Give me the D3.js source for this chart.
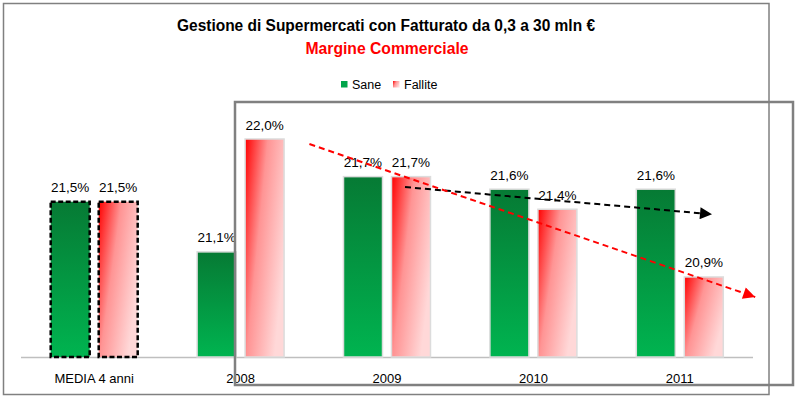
<!DOCTYPE html>
<html>
<head>
<meta charset="utf-8">
<script src="https://cdn.jsdelivr.net/npm/d3@7"></script>
<style>
  html, body { margin: 0; padding: 0; background: #fff; }
  svg { display: block; font-family: "Liberation Sans", Arial, sans-serif; }
</style>
</head>
<body>
<svg id="chart" width="800" height="399"></svg>
<script>
// ---- data ----
const categories = ["MEDIA 4 anni", "2008", "2009", "2010", "2011"];
const seriesNames = ["Sane", "Fallite"];
const saneValues = [21.5, 21.1, 21.7, 21.6, 21.6];
const falliteValues = [21.5, 22.0, 21.7, 21.44, 20.9];
const averageCategory = "MEDIA 4 anni";
const titleText = "Gestione di Supermercati con Fatturato da 0,3 a 30 mln €";
const subtitleText = "Margine Commerciale";
// trend arrows (category, fraction of band from centre, value)
const trendFallite = [{cat: "2008", off: 0.47, v: 21.96}, {cat: "2011", off: 0.515, v: 20.74}];
const trendSane = [{cat: "2009", off: 0.123, v: 21.617}, {cat: "2011", off: 0.22, v: 21.40}];

const svg = d3.select("#chart");
const W = 800, H = 399;

// ---- scales ----
const x0 = d3.scaleBand().domain(categories).range([21, 753]).padding(0);
const half = 43.5;
const x1 = d3.scaleBand().domain(seriesNames)
  .range([x0.bandwidth() / 2 - half, x0.bandwidth() / 2 + half])
  .paddingInner(0.1875).paddingOuter(0);
const y = d3.scaleLinear().domain([20.262, 22.0]).range([357, 139]);

const fmt = v => d3.format(".1f")(v).replace(".", ",") + "%";

// ---- defs ----
const defs = svg.append("defs");
const gG = defs.append("linearGradient").attr("id", "gGreen")
  .attr("x1", 0).attr("y1", 0).attr("x2", 0).attr("y2", 1);
gG.append("stop").attr("offset", "0%").attr("stop-color", "#067a34");
gG.append("stop").attr("offset", "100%").attr("stop-color", "#00b450");

const gR = defs.append("linearGradient").attr("id", "gRed")
  .attr("x1", 0).attr("y1", 0).attr("x2", 1).attr("y2", 0.55);
gR.append("stop").attr("offset", "0%").attr("stop-color", "#ff0000");
gR.append("stop").attr("offset", "45%").attr("stop-color", "#ff9494");
gR.append("stop").attr("offset", "100%").attr("stop-color", "#ffd8d8");

function marker(id, color) {
  defs.append("marker").attr("id", id)
    .attr("viewBox", "0 0 10 10").attr("refX", 10).attr("refY", 5)
    .attr("markerUnits", "userSpaceOnUse")
    .attr("markerWidth", 15).attr("markerHeight", 12)
    .attr("orient", "auto")
    .append("path").attr("d", "M0,0 L10,5 L0,10 Z").attr("fill", color);
}
marker("arrRed", "#ff0000");
marker("arrBlack", "#000000");

svg.append("rect").attr("width", W).attr("height", H).attr("fill", "#fff");

// ---- outer frame ----
svg.append("rect").attr("x", 3.5).attr("y", 3.5).attr("width", 765.5).attr("height", 391)
  .attr("fill", "none").attr("stroke", "#808080").attr("stroke-width", 1.5);

// ---- titles ----
svg.append("text").attr("x", 386).attr("y", 31).attr("text-anchor", "middle")
  .attr("font-size", 16).attr("font-weight", "bold").attr("fill", "#000")
  .attr("textLength", 418).attr("lengthAdjust", "spacingAndGlyphs")
  .text(titleText);
svg.append("text").attr("x", 387).attr("y", 54).attr("text-anchor", "middle")
  .attr("font-size", 16).attr("font-weight", "bold").attr("fill", "#ff0000")
  .attr("textLength", 163).attr("lengthAdjust", "spacingAndGlyphs")
  .text(subtitleText);

// ---- legend ----
const legend = svg.append("g");
const legItems = [{name: seriesNames[0], fill: "#00a54a", x: 341}, {name: seriesNames[1], fill: "url(#gRed)", x: 393}];
legItems.forEach(d => {
  legend.append("rect").attr("x", d.x).attr("y", 81).attr("width", 6.5).attr("height", 6.5).attr("fill", d.fill);
  legend.append("text").attr("x", d.x + 11).attr("y", 88.5).attr("font-size", 12.5).attr("fill", "#000").text(d.name);
});

// ---- axis baseline ----
svg.append("line").attr("x1", 21).attr("x2", 753).attr("y1", 357.5).attr("y2", 357.5)
  .attr("stroke", "#bfbfbf").attr("stroke-width", 1.5);

// ---- bars ----
const rows = categories.map((c, i) => ({cat: c, vals: [saneValues[i], falliteValues[i]]}));
const groups = svg.append("g").selectAll("g").data(rows).join("g")
  .attr("transform", d => `translate(${x0(d.cat)},0)`);

groups.selectAll("rect").data(d => d.vals.map((v, j) => ({cat: d.cat, s: seriesNames[j], v})))
  .join("rect")
  .attr("x", d => x1(d.s))
  .attr("width", x1.bandwidth())
  .attr("y", d => y(d.v))
  .attr("height", d => y.range()[0] - y(d.v))
  .attr("fill", d => d.s === "Sane" ? "url(#gGreen)" : "url(#gRed)")
  .attr("stroke", d => d.cat === averageCategory ? "#000" : "#dcdcdc")
  .attr("stroke-width", d => d.cat === averageCategory ? 2.5 : 1.5)
  .attr("stroke-dasharray", d => d.cat === averageCategory ? "5,2.5" : null);

groups.selectAll("text.val").data(d => d.vals.map((v, j) => ({s: seriesNames[j], v})))
  .join("text").attr("class", "val")
  .attr("x", d => x1(d.s) + x1.bandwidth() / 2)
  .attr("y", d => y(d.v) - 9.5)
  .attr("text-anchor", "middle").attr("font-size", 13.5).attr("fill", "#000")
  .text(d => fmt(d.v));

// ---- category labels ----
svg.append("g").selectAll("text").data(categories).join("text")
  .attr("x", d => x0(d) + x0.bandwidth() / 2)
  .attr("y", 383)
  .attr("text-anchor", "middle").attr("font-size", 13).attr("fill", "#000")
  .text(d => d);

// ---- trend arrows ----
const tx = p => x0(p.cat) + x0.bandwidth() * (0.5 + p.off);
function arrow(pts, color, mk) {
  svg.append("line")
    .attr("x1", tx(pts[0])).attr("y1", y(pts[0].v))
    .attr("x2", tx(pts[1])).attr("y2", y(pts[1].v))
    .attr("stroke", color).attr("stroke-width", 2)
    .attr("stroke-dasharray", "6,4")
    .attr("marker-end", `url(#${mk})`);
}
arrow(trendSane, "#000", "arrBlack");
arrow(trendFallite, "#ff0000", "arrRed");

// ---- inner highlight frame ----
svg.append("rect").attr("x", 235).attr("y", 102).attr("width", 558).attr("height", 283)
  .attr("fill", "none").attr("stroke", "#808080").attr("stroke-width", 2.5);
</script>
</body>
</html>
